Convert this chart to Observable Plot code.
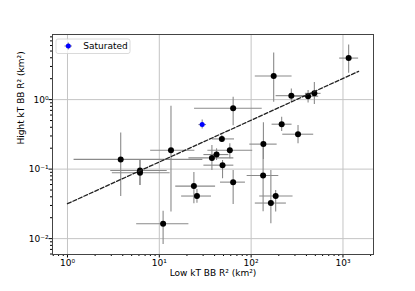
<!DOCTYPE html>
<html><head><meta charset="utf-8">
<script src="https://cdn.jsdelivr.net/npm/d3@7"></script>
<script src="https://cdn.jsdelivr.net/npm/@observablehq/plot@0.6"></script>
<style>body{margin:0;background:#fff}</style>
</head><body><div id="chart"></div>
<script>
// Normal sources: low kT BB R^2 (x) with errors, high kT BB R^2 (y) with errors
const lowR2   = [3.80, 6.16, 6.16, 13.4, 11.0, 23.8, 25.7, 37.4, 42.0, 48.0, 48.8, 58.6, 63.7, 63.7, 136, 135, 164, 185, 176, 215, 324, 274, 417, 488, 1153];
const lowLo   = [1.18, 2.96, 3.08, 8.05, 5.67, 15.1, 17.5, 21.0, 30.6, 37.7, 30.6, 33.8, 46.4, 24.2, 96.7, 90.5, 111, 124, 111, 169, 221, 187, 291, 390, 920];
const lowHi   = [29.8, 12.2, 13.1, 24.4, 21.0, 41.0, 37.0, 64.8, 57.2, 65.9, 64.8, 104, 86.7, 132, 192, 200, 242, 286, 279, 279, 480, 406, 544, 577, 1480];
const highR2  = [0.138, 0.0957, 0.0886, 0.187, 0.0164, 0.057, 0.041, 0.145, 0.162, 0.272, 0.114, 0.187, 0.065, 0.751, 0.229, 0.0811, 0.0325, 0.041, 2.19, 0.443, 0.318, 1.14, 1.12, 1.23, 3.96];
const highLo  = [0.0405, 0.0583, 0.0583, 0.0241, 0.0082, 0.0318, 0.0322, 0.0957, 0.133, 0.244, 0.0727, 0.141, 0.031, 0.42, 0.138, 0.0244, 0.0164, 0.0241, 0.915, 0.347, 0.231, 0.915, 0.895, 0.848, 2.39];
const highHi  = [0.332, 0.136, 0.136, 0.802, 0.0247, 0.0896, 0.051, 0.219, 0.196, 0.311, 0.133, 0.231, 0.0957, 1.08, 0.463, 0.214, 0.0957, 0.0494, 4.68, 0.557, 0.424, 1.42, 1.35, 1.77, 6.09];

// Saturated source
const satLow = [29.3], satLowLo = [27.0], satLowHi = [32.7];
const satHigh = [0.438], satHighLo = [0.379], satHighHi = [0.511];

// Fit line endpoints
const fitX = [1, 1480];
const fitY = [0.0318, 2.55];

// Tick labels
const xTickValues = [1, 10, 100, 1000];
const xTickLabels = ["10⁰", "10¹", "10²", "10³"];
const yTickValues = [0.01, 0.1, 1];
const yTickLabels = ["10⁻²", "10⁻¹", "10⁰"];

const xDomain = [0.687, 2150];
const yDomain = [0.00591, 8.65];

const pts = lowR2.map((x, i) => ({x, xlo: lowLo[i], xhi: lowHi[i], y: highR2[i], ylo: highLo[i], yhi: highHi[i]}));
const sat = satLow.map((x, i) => ({x, xlo: satLowLo[i], xhi: satLowHi[i], y: satHigh[i], ylo: satHighLo[i], yhi: satHighHi[i]}));
const fit = fitX.map((x, i) => ({x, y: fitY[i]}));

function minors(lo, hi) {
  const out = [];
  for (let e = -4; e <= 4; e++) for (let m = 2; m <= 9; m++) {
    const v = m * Math.pow(10, e);
    if (v >= lo && v <= hi) out.push(v);
  }
  return out;
}
const xMinor = minors(xDomain[0], xDomain[1]);
const yMinor = minors(yDomain[0], yDomain[1]);
const xLab = new Map(xTickValues.map((v, i) => [v, xTickLabels[i]]));
const yLab = new Map(yTickValues.map((v, i) => [v, yTickLabels[i]]));

const errColor = "#8a8a8a";
const svg = Plot.plot({
  width: 415, height: 291,
  marginLeft: 52, marginRight: 42, marginTop: 34, marginBottom: 37,
  style: {fontFamily: "DejaVu Sans", fontSize: "9px", background: "white", color: "black"},
  x: {type: "log", domain: xDomain, label: null},
  y: {type: "log", domain: yDomain, label: null},
  marks: [
    Plot.gridX(xTickValues, {stroke: "#c4c4c4", strokeOpacity: 1, strokeWidth: 1}),
    Plot.gridY(yTickValues, {stroke: "#c4c4c4", strokeOpacity: 1, strokeWidth: 1}),
    Plot.axisX({ticks: xMinor, tickSize: 2, tickFormat: () => "", label: null}),
    Plot.axisY({ticks: yMinor, tickSize: 2, tickFormat: () => "", label: null}),
    Plot.axisX({ticks: xTickValues, tickSize: 3.5, tickPadding: 2, tickFormat: d => xLab.get(d), fontSize: 9, label: null}),
    Plot.axisY({ticks: yTickValues, tickSize: 3.5, tickPadding: 0.5, tickFormat: d => yLab.get(d), fontSize: 9, label: null}),
    Plot.ruleY(pts, {y: "y", x1: "xlo", x2: "xhi", stroke: errColor, strokeWidth: 1.1}),
    Plot.ruleX(pts, {x: "x", y1: "ylo", y2: "yhi", stroke: errColor, strokeWidth: 1.1}),
    Plot.ruleY(sat, {y: "y", x1: "xlo", x2: "xhi", stroke: errColor, strokeWidth: 1.1}),
    Plot.ruleX(sat, {x: "x", y1: "ylo", y2: "yhi", stroke: errColor, strokeWidth: 1.1}),
    Plot.dot(pts, {x: "x", y: "y", r: 3, fill: "black", stroke: "none"}),
    Plot.dot(sat, {x: "x", y: "y", r: 2.5, fill: "blue", stroke: "none"}),
    Plot.line(fit, {x: "x", y: "y", stroke: "#222", strokeWidth: 1.3, strokeDasharray: "4,2"}),
    Plot.frame({stroke: "#444", strokeWidth: 1}),
    Plot.text(["Low kT BB R² (km²)"], {frameAnchor: "bottom", dy: 21.5, fontSize: 9, fill: "black"}),
    Plot.text(["Hight kT BB R² (km²)"], {frameAnchor: "left", dx: -31, rotate: -90, fontSize: 9, fill: "black"})
  ]
});

// Legend (inside the plot area, upper left)
const g = d3.select(svg).append("g").attr("text-anchor", "start");
g.append("rect").attr("x", 56).attr("y", 39).attr("width", 74).attr("height", 14.5)
  .attr("rx", 2).attr("fill", "white").attr("fill-opacity", 0.8).attr("stroke", "#d0d0d0").attr("stroke-width", 0.8);
g.append("line").attr("x1", 64.5).attr("x2", 72).attr("y1", 46).attr("y2", 46).attr("stroke", errColor).attr("stroke-width", 1.1);
g.append("line").attr("x1", 68.3).attr("x2", 68.3).attr("y1", 42.5).attr("y2", 49.5).attr("stroke", errColor).attr("stroke-width", 1.1);
g.append("circle").attr("cx", 68.3).attr("cy", 46).attr("r", 2.5).attr("fill", "blue");
g.append("text").attr("x", 83.3).attr("y", 46).attr("dy", "0.35em").attr("text-anchor", "start")
  .attr("font-size", 9).attr("fill", "black").text("Saturated");

document.getElementById("chart").appendChild(svg);
</script>
</body></html>
